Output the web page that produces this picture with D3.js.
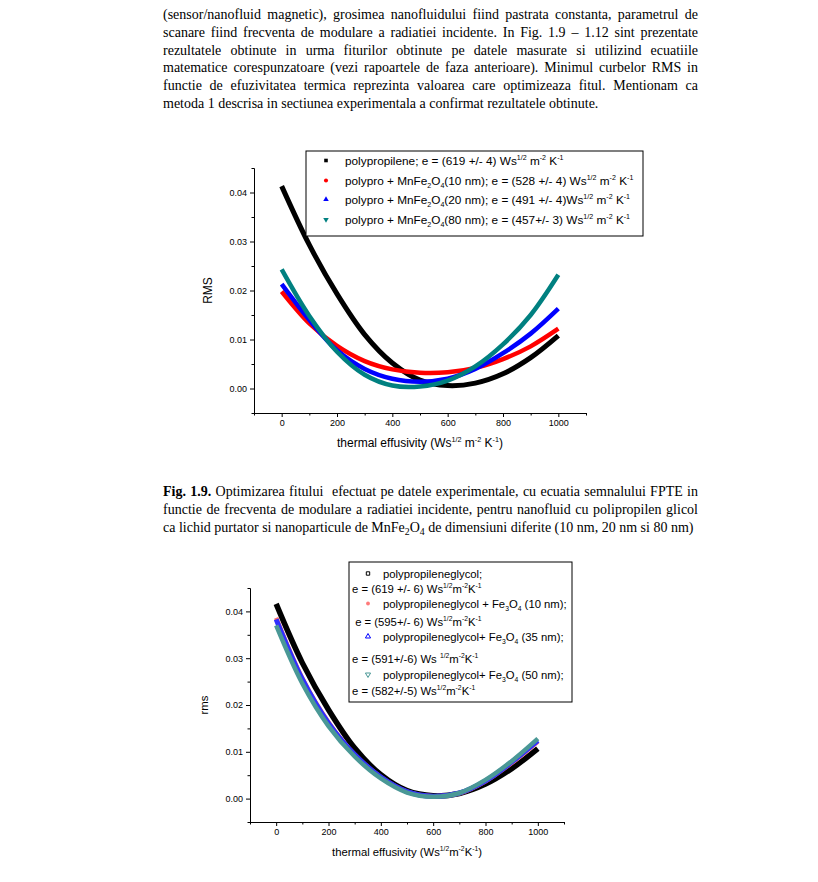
<!DOCTYPE html>
<html>
<head>
<meta charset="utf-8">
<script src="https://cdn.jsdelivr.net/npm/d3@7"></script>
<style>
  body { margin: 0; background: #fff; }
  .para { position: absolute; font-family: "Liberation Serif", "Times New Roman", serif; font-size: 14px; line-height: 17.8px; color: #000; }
  .para div { text-align: justify; text-align-last: justify; }
  .para div.last { text-align-last: left; }
  sub { font-size: 70%; vertical-align: -3px; line-height: 0; }
  svg { position: absolute; left: 0; top: 0; }
</style>
</head>
<body>
<svg id="page" width="818" height="882"></svg>

<div class="para" style="left:163px; top:6px; width:535px;">
  <div>(sensor/nanofluid magnetic), grosimea nanofluidului fiind pastrata constanta, parametrul de</div>
  <div>scanare fiind frecventa de modulare a radiatiei incidente. In Fig. 1.9 – 1.12 sint prezentate</div>
  <div>rezultatele obtinute in urma fiturilor obtinute pe datele masurate si utilizind ecuatiile</div>
  <div>matematice corespunzatoare (vezi rapoartele de faza anterioare). Minimul curbelor RMS in</div>
  <div>functie de efuzivitatea termica reprezinta valoarea care optimizeaza fitul. Mentionam ca</div>
  <div class="last">metoda 1 descrisa in sectiunea experimentala a confirmat rezultatele obtinute.</div>
</div>

<div class="para" style="left:163px; top:483px; width:535px;">
  <div><b>Fig. 1.9.</b> Optimizarea fitului &nbsp;efectuat pe datele experimentale, cu ecuatia semnalului FPTE in</div>
  <div>functie de frecventa de modulare a radiatiei incidente, pentru nanofluid cu polipropilen glicol</div>
  <div class="last">ca lichid purtator si nanoparticule de MnFe<sub>2</sub>O<sub>4</sub> de dimensiuni diferite (10 nm, 20 nm si 80 nm)</div>
</div>

<script>
let effusivity = [0, 100, 200, 300, 400, 500, 600, 700, 800, 900, 1000];

// figure 1.9 - MnFe2O4
let rmsPolypro  = [0.0413, 0.0293, 0.0193, 0.0110, 0.0052, 0.0017, 0.0006, 0.0011, 0.0030, 0.0063, 0.0108];
let rmsMn10     = [0.0198, 0.0133, 0.0087, 0.0056, 0.0039, 0.0032, 0.0033, 0.0042, 0.0060, 0.0086, 0.0122];
let rmsMn20     = [0.0213, 0.0140, 0.0078, 0.0040, 0.0020, 0.0014, 0.0020, 0.0040, 0.0072, 0.0112, 0.0163];
let rmsMn80     = [0.0243, 0.0148, 0.0075, 0.0028, 0.0006, 0.0004, 0.0016, 0.0045, 0.0090, 0.0150, 0.0232];

// second figure - Fe3O4
let rmsGlycol   = [0.0416, 0.0290, 0.0190, 0.0108, 0.0051, 0.0017, 0.0006, 0.0011, 0.0031, 0.0064, 0.0107];
let rmsFe10     = [0.0386, 0.0257, 0.0163, 0.0094, 0.0046, 0.0015, 0.0005, 0.0011, 0.0037, 0.0076, 0.0122];
let rmsFe35     = [0.0383, 0.0255, 0.0161, 0.0094, 0.0046, 0.0015, 0.0005, 0.0012, 0.0038, 0.0078, 0.0124];
let rmsFe50     = [0.0370, 0.0246, 0.0155, 0.0090, 0.0043, 0.0013, 0.0004, 0.0012, 0.0040, 0.0080, 0.0128];

let xMajor = [0, 200, 400, 600, 800, 1000];
let xMinor = [-100, 100, 300, 500, 700, 900, 1100];
let yMajor = [0, 0.01, 0.02, 0.03, 0.04];
let yMinor = [-0.005, 0.005, 0.015, 0.025, 0.035, 0.045];

let unit = [["thermal effusivity (Ws"], ["1/2", "sup"], [" m"], ["-2", "sup"], [" K"], ["-1", "sup"], [")"]];
let unit2 = [["thermal effusivity (Ws"], ["1/2", "sup"], ["m"], ["-2", "sup"], ["K"], ["-1", "sup"], [")"]];

let legend1 = [
  { marker: "square", color: "#000", fill: true, parts: [["polypropilene; e = (619 +/- 4) Ws"], ["1/2", "sup"], [" m"], ["-2", "sup"], [" K"], ["-1", "sup"]] },
  { marker: "circle", color: "#ff0000", fill: true, parts: [["polypro + MnFe"], ["2", "sub"], ["O"], ["4", "sub"], ["(10 nm); e = (528 +/- 4) Ws"], ["1/2", "sup"], [" m"], ["-2", "sup"], [" K"], ["-1", "sup"]] },
  { marker: "up", color: "#0000ff", fill: true, parts: [["polypro + MnFe"], ["2", "sub"], ["O"], ["4", "sub"], ["(20 nm); e = (491 +/- 4)Ws"], ["1/2", "sup"], [" m"], ["-2", "sup"], [" K"], ["-1", "sup"]] },
  { marker: "down", color: "#008080", fill: true, parts: [["polypro + MnFe"], ["2", "sub"], ["O"], ["4", "sub"], ["(80 nm); e = (457+/- 3) Ws"], ["1/2", "sup"], [" m"], ["-2", "sup"], [" K"], ["-1", "sup"]] }
];
let legend1Rows = [161, 181, 200, 220];

let legend2 = [
  { marker: "square", color: "#000", parts: [["polypropileneglycol;"]] },
  { parts: [["e = (619 +/- 6) Ws"], ["1/2", "sup"], ["m"], ["-2", "sup"], ["K"], ["-1", "sup"]] },
  { marker: "circle", color: "#ff7a7a", fill: true, parts: [["polypropileneglycol + Fe"], ["3", "sub"], ["O"], ["4", "sub"], [" (10 nm);"]] },
  { parts: [[" e = (595+/- 6) Ws"], ["1/2", "sup"], ["m"], ["-2", "sup"], ["K"], ["-1", "sup"]] },
  { marker: "up", color: "#0000ff", parts: [["polypropileneglycol+ Fe"], ["3", "sub"], ["O"], ["4", "sub"], [" (35 nm);"]] },
  { parts: [["e = (591+/-6) Ws "], ["1/2", "sup"], ["m"], ["-2", "sup"], ["K"], ["-1", "sup"]] },
  { marker: "down", color: "#4a9896", parts: [["polypropileneglycol+ Fe"], ["3", "sub"], ["O"], ["4", "sub"], [" (50 nm);"]] },
  { parts: [["e = (582+/-5) Ws"], ["1/2", "sup"], ["m"], ["-2", "sup"], ["K"], ["-1", "sup"]] }
];
let legend2Rows = [574, 589, 604, 622, 637, 659, 675, 691];

let svg = d3.select("#page");
let sans = "'Liberation Sans', Arial, sans-serif";

function richText(g, x, y, parts, size, anchor) {
  let t = g.append("text")
    .attr("x", x).attr("y", y)
    .attr("font-family", sans)
    .attr("font-size", size)
    .attr("text-anchor", anchor || "start")
    .attr("fill", "#000");
  let shift = 0;
  parts.forEach(p => {
    let kind = p[1];
    let target = kind == "sup" ? -0.42 * size : kind == "sub" ? 0.25 * size : 0;
    t.append("tspan")
      .attr("dy", target - shift)
      .attr("font-size", kind ? size * 0.6 : size)
      .style("white-space", "pre")
      .text(p[0]);
    shift = target;
  });
  return t;
}

function marker(g, type, x, y, color, filled, s) {
  let sym = { square: d3.symbolSquare, circle: d3.symbolCircle, up: d3.symbolTriangle, down: d3.symbolTriangle }[type];
  let p = g.append("path")
    .attr("d", d3.symbol(sym, s * s))
    .attr("transform", `translate(${x},${y})` + (type == "down" ? " rotate(180)" : ""));
  if (filled) p.attr("fill", color);
  else p.attr("fill", "none").attr("stroke", color).attr("stroke-width", 1);
}

function drawChart(cfg) {
  let g = svg.append("g");
  let xScale = d3.scaleLinear().domain([-100, 1100]).range([cfg.left, cfg.right]);
  let yScale = d3.scaleLinear().domain([-0.005, 0.045]).range([cfg.bottom, cfg.top]);

  // curves
  let line = d3.line()
    .x((d, i) => xScale(effusivity[i]))
    .y(d => yScale(d))
    .curve(d3.curveCatmullRom);
  cfg.series.forEach(s => {
    g.append("path")
      .attr("d", line(s.values))
      .attr("fill", "none")
      .attr("stroke", s.color)
      .attr("stroke-width", s.width)
      .attr("stroke-linecap", "butt");
  });

  // axes
  let axisStyle = sel => {
    sel.selectAll("path,line").attr("stroke", "#000").attr("stroke-width", 1);
    sel.selectAll("text").attr("font-family", sans).attr("font-size", 9).attr("fill", "#000");
  };
  g.append("g").attr("transform", `translate(0,${cfg.bottom})`)
    .call(d3.axisBottom(xScale).tickValues(xMajor).tickSize(4).tickPadding(3).tickFormat(d3.format("d")).tickSizeOuter(0))
    .call(axisStyle);
  g.append("g").attr("transform", `translate(0,${cfg.bottom})`)
    .call(d3.axisBottom(xScale).tickValues(xMinor).tickSize(2.5).tickFormat("").tickSizeOuter(0))
    .call(axisStyle);
  g.append("g").attr("transform", `translate(${cfg.left},0)`)
    .call(d3.axisLeft(yScale).tickValues(yMajor).tickSize(4).tickPadding(3).tickFormat(d3.format(".2f")).tickSizeOuter(0))
    .call(axisStyle);
  g.append("g").attr("transform", `translate(${cfg.left},0)`)
    .call(d3.axisLeft(yScale).tickValues(yMinor).tickSize(2.5).tickFormat("").tickSizeOuter(0))
    .call(axisStyle);

  // axis titles
  richText(g, (cfg.left + cfg.right) / 2, cfg.bottom + 34, cfg.xTitle, cfg.titleSize, "middle");
  g.append("text")
    .attr("transform", `translate(${cfg.left - 42},${(cfg.top + cfg.bottom) / 2}) rotate(-90)`)
    .attr("text-anchor", "middle")
    .attr("font-family", sans).attr("font-size", cfg.titleSize)
    .text(cfg.yTitle);

  // legend
  let lg = cfg.legend;
  g.append("rect")
    .attr("x", lg.x).attr("y", lg.y).attr("width", lg.w).attr("height", lg.h)
    .attr("fill", "#fff").attr("stroke", "#000").attr("stroke-width", 1);
  lg.items.forEach((it, i) => {
    let cy = lg.rows[i];
    if (it.marker) {
      marker(g, it.marker, lg.markerX, cy - 0.5, it.color, it.fill, lg.markerSize);
      richText(g, lg.textX, cy + lg.size * 0.35, it.parts, lg.size);
    } else {
      richText(g, lg.plainX, cy + lg.size * 0.35, it.parts, lg.size);
    }
  });
}

drawChart({
  left: 254, right: 586, top: 168, bottom: 413,
  xTitle: unit, yTitle: "RMS", titleSize: 12,
  series: [
    { values: rmsPolypro, color: "#000", width: 5 },
    { values: rmsMn10, color: "#ff0000", width: 4.5 },
    { values: rmsMn20, color: "#0000ff", width: 4.5 },
    { values: rmsMn80, color: "#008080", width: 4.5 }
  ],
  legend: { x: 306, y: 151, w: 337, h: 85, rows: legend1Rows, markerX: 326, textX: 345, plainX: 345, size: 11.8, markerSize: 3.6, items: legend1 }
});

drawChart({
  left: 250, right: 564, top: 588, bottom: 822,
  xTitle: unit2, yTitle: "rms", titleSize: 11.3,
  series: [
    { values: rmsGlycol, color: "#000", width: 5.5 },
    { values: rmsFe10, color: "#ff6a6a", width: 4.5 },
    { values: rmsFe35, color: "#3030ff", width: 5 },
    { values: rmsFe50, color: "#4a9896", width: 4.5 }
  ],
  legend: { x: 349, y: 562, w: 223, h: 140, rows: legend2Rows, markerX: 368, textX: 383, plainX: 352, size: 11.3, markerSize: 3.4, items: legend2 }
});
</script>
</body>
</html>
